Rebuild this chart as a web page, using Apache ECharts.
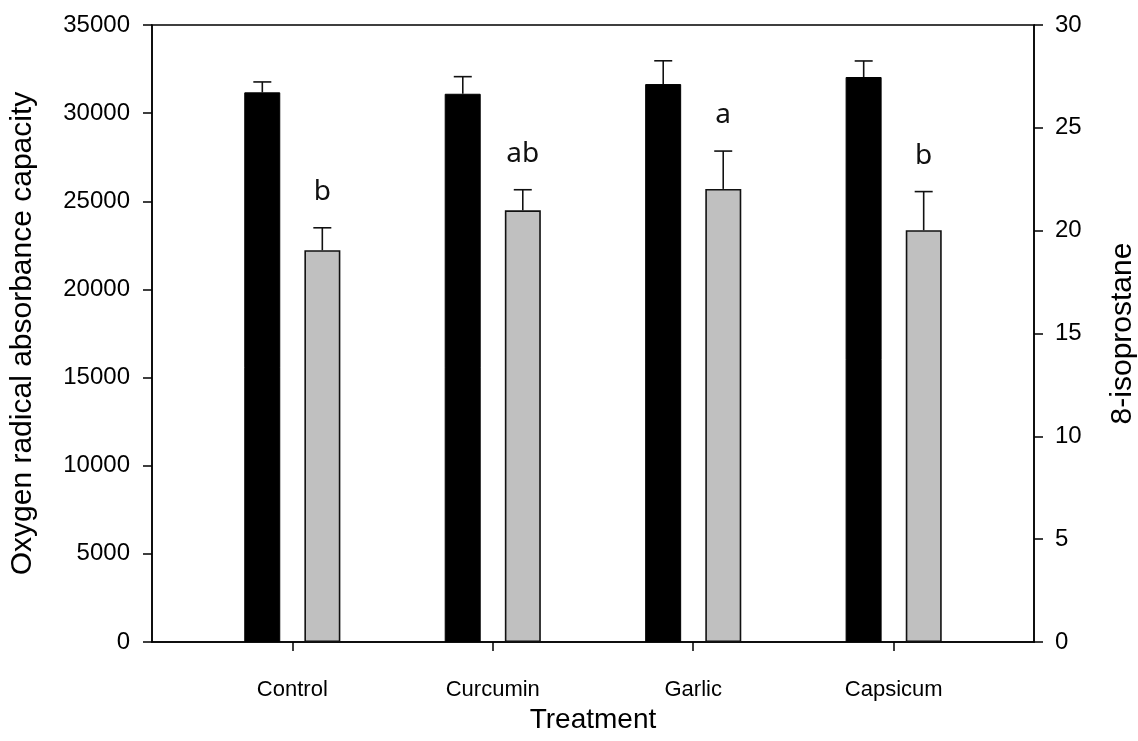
<!DOCTYPE html>
<html>
<head>
<meta charset="utf-8">
<script src="https://cdn.jsdelivr.net/npm/echarts@6/dist/echarts.min.js"></script>
<style>html,body{margin:0;padding:0;background:#fff}#c{width:1138px;height:741px}</style>
</head>
<body>
<div id="c"></div>
<script>
var categories = ['Control', 'Curcumin', 'Garlic', 'Capsicum'];
var oracMean = [31180, 31100, 31650, 32050];
var oracUpper = [31770, 32070, 32970, 32960];
var isoMean = [19.05, 20.99, 22.03, 20.02];
var isoUpper = [20.14, 21.99, 23.87, 21.90];
var isoLetters = ['b', 'ab', 'a', 'b'];
var leftTicks = [0, 5000, 10000, 15000, 20000, 25000, 30000, 35000];
var rightTicks = [0, 5, 10, 15, 20, 25, 30];

var positions = categories.map(function (c, i) { return i + 1; });
var BAR_W = 36, OFFSET = 30, CAP = 18;

function errItem(dx, letters) {
  return function (params, api) {
    var x = api.value(0), lo = api.value(1), hi = api.value(2);
    var p0 = api.coord([x, lo]);
    var p1 = api.coord([x, hi]);
    var cx = p0[0] + dx;
    var children = [
      { type: 'line', shape: { x1: cx, y1: p0[1], x2: cx, y2: p1[1] }, style: { stroke: '#111', lineWidth: 1.6 } },
      { type: 'line', shape: { x1: cx - CAP / 2, y1: p1[1], x2: cx + CAP / 2, y2: p1[1] }, style: { stroke: '#111', lineWidth: 1.6 } }
    ];
    if (letters) {
      children.push({ type: 'text', style: { text: letters[params.dataIndex], x: cx, y: p1[1] - 36, align: 'center', verticalAlign: 'middle', fontFamily: 'Noto Sans', fontSize: 28, fill: '#111' } });
    }
    return { type: 'group', children: children };
  };
}

var chart = echarts.init(document.getElementById('c'), null, { renderer: 'canvas' });
var axisLine = { show: true, lineStyle: { color: '#000', width: 1.5 } };
var tickFmt = function (v) { return String(v); };
chart.setOption({
  animation: false,
  grid: { left: 152, right: 104, top: 25, bottom: 99, outerBoundsMode: 'none', containLabel: false,
    show: true, borderColor: '#000', borderWidth: 1.5, backgroundColor: 'transparent' },
  xAxis: {
    type: 'value', min: 0.3, max: 4.7,
    name: 'Treatment', nameLocation: 'middle', nameGap: 52,
    nameTextStyle: { fontFamily: 'Liberation Sans', fontSize: 28, color: '#000' },
    axisLine: axisLine,
    splitLine: { show: false },
    axisTick: { show: true, length: 9, customValues: positions, lineStyle: { color: '#000', width: 1.5 } },
    axisLabel: { customValues: positions, margin: 37, fontFamily: 'Liberation Sans', fontSize: 22, color: '#000',
      formatter: function (v) { return categories[Math.round(v) - 1]; } }
  },
  yAxis: [
    {
      type: 'value', min: 0, max: 35000, interval: 5000, position: 'left',
      name: 'Oxygen radical absorbance capacity', nameLocation: 'middle', nameGap: 114, nameRotate: 90,
      nameTextStyle: { fontFamily: 'Liberation Sans', fontSize: 30, color: '#000' },
      axisLine: axisLine, splitLine: { show: false },
      axisTick: { show: true, length: 9, lineStyle: { color: '#000', width: 1.5 } },
      axisLabel: { margin: 22, fontFamily: 'Liberation Sans', fontSize: 24, color: '#000',
        customValues: leftTicks, formatter: tickFmt }
    },
    {
      type: 'value', min: 0, max: 30, interval: 5, position: 'right',
      name: '8-isoprostane', nameLocation: 'middle', nameGap: 74, nameRotate: 90,
      nameTextStyle: { fontFamily: 'Liberation Sans', fontSize: 30, color: '#000' },
      axisLine: axisLine, splitLine: { show: false },
      axisTick: { show: true, length: 9, lineStyle: { color: '#000', width: 1.5 } },
      axisLabel: { margin: 21, fontFamily: 'Liberation Sans', fontSize: 24, color: '#000',
        customValues: rightTicks, formatter: tickFmt }
    }
  ],
  series: [
    {
      type: 'bar', yAxisIndex: 0, barWidth: BAR_W, barGap: '67%',
      data: positions.map(function (p, i) { return [p, oracMean[i]]; }),
      itemStyle: { color: '#000', borderColor: '#000', borderWidth: 1 }
    },
    {
      type: 'bar', yAxisIndex: 1, barWidth: BAR_W, barGap: '67%',
      data: positions.map(function (p, i) { return [p, isoMean[i]]; }),
      itemStyle: { color: '#c0c0c0', borderColor: '#111', borderWidth: 1.6 }
    },
    {
      type: 'custom', yAxisIndex: 0, z: 1,
      renderItem: errItem(-OFFSET, null),
      data: positions.map(function (p, i) { return [p, oracMean[i], oracUpper[i]]; })
    },
    {
      type: 'custom', yAxisIndex: 1, z: 1,
      renderItem: errItem(OFFSET, isoLetters),
      data: positions.map(function (p, i) { return [p, isoMean[i], isoUpper[i]]; })
    }
  ]
});
</script>
</body>
</html>
